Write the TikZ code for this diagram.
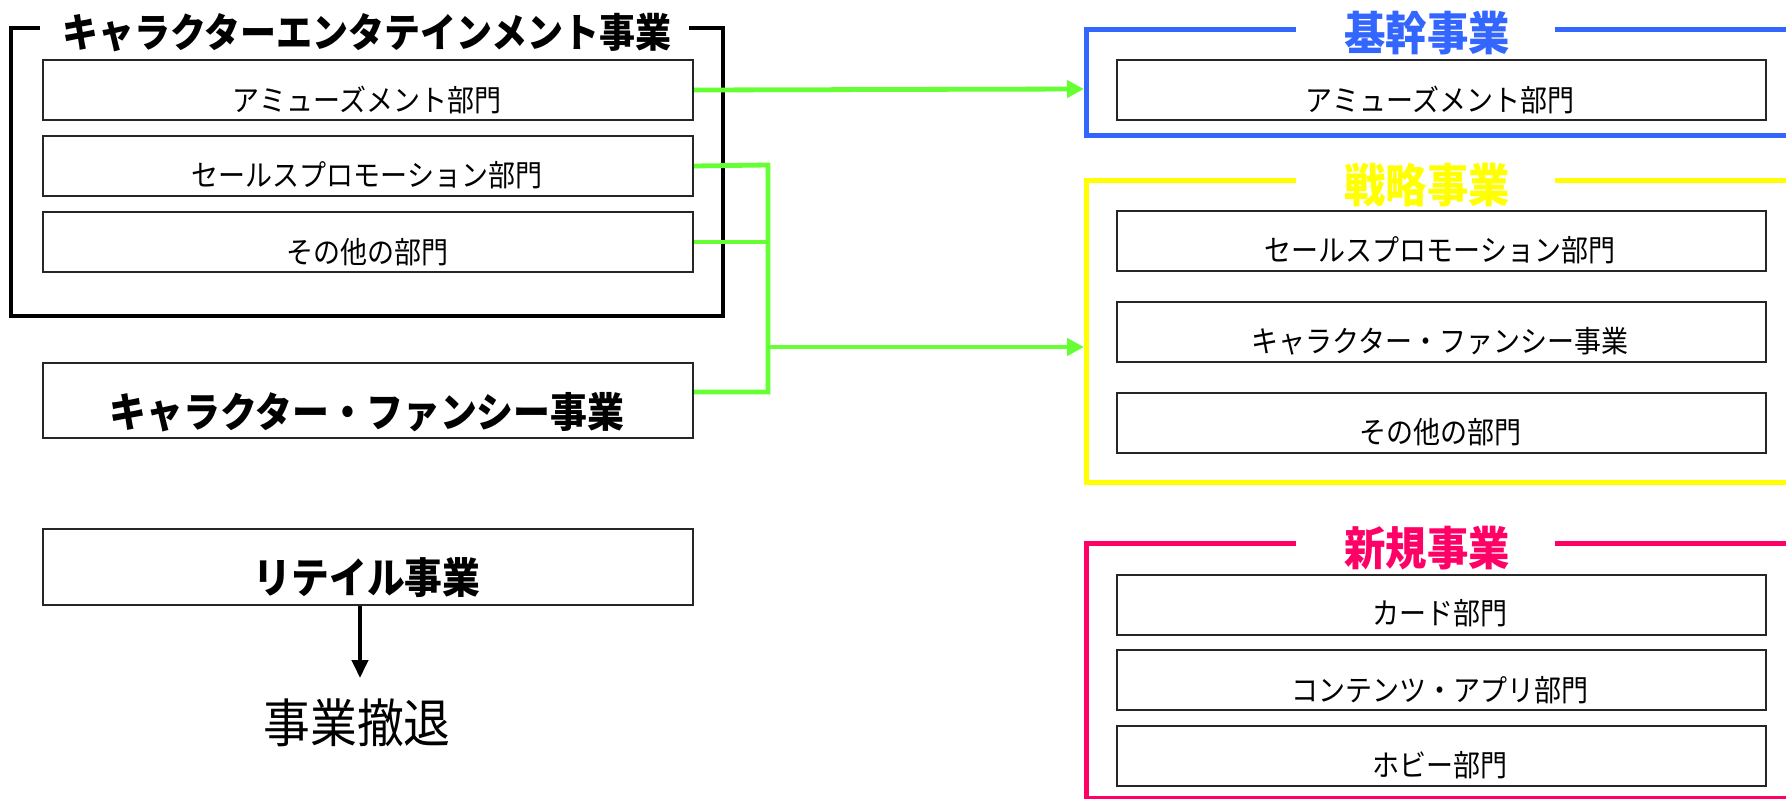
\documentclass[tikz,border=0pt]{standalone}
\usepackage{fontspec}
\newfontfamily\jpn[FakeStretch=0.9]{Noto Sans CJK JP}
\usetikzlibrary{arrows.meta}
\definecolor{cgreen}{RGB}{102,255,51}
\definecolor{cblue}{RGB}{51,102,255}
\definecolor{cyellow}{RGB}{255,255,0}
\definecolor{cpink}{RGB}{255,0,102}
\begin{document}
\begin{tikzpicture}[x=1pt,y=-1pt,
  box/.style={draw=black!85, line width=2pt, minimum width=650pt, minimum height=60pt, inner sep=0pt, anchor=north west},
  bigbox/.style={box, minimum height=75pt},
  txt/.style={font=\jpn\fontsize{30}{30}\selectfont, inner sep=0pt},
  btxt/.style={font=\jpn\bfseries\fontsize{41}{41}\selectfont, inner sep=0pt},
  ttl/.style={font=\jpn\bfseries\fontsize{46}{46}\selectfont, inner sep=0pt},
  frame/.style={line width=5pt, line join=miter},
  grn/.style={draw=cgreen, line width=4.8pt, line join=miter},
  garrow/.style={grn, -{Triangle[length=17pt,width=17pt]}}
]
\useasboundingbox (0,0) rectangle (1786,798);
\clip (0,0) rectangle (1786,798);

% ---------- left side ----------
\draw[line width=4pt, line join=miter] (40,28) -- (11,28) -- (11,316) -- (723,316) -- (723,28) -- (689,28);
\node[btxt, font=\jpn\bfseries\fontsize{40}{40}\selectfont] (lt) at (367,33) {キャラクターエンタテインメント事業};

\node[box] (l1) at (42,59) {};
\node[txt] (l1t) at (367,100) {アミューズメント部門};
\node[box] (l2) at (42,135) {};
\node[txt] (l2t) at (367,175) {セールスプロモーション部門};
\node[box] (l3) at (42,211) {};
\node[txt] (l3t) at (367,252) {その他の部門};

\node[bigbox] (cf) at (42,362) {};
\node[btxt] (cft) at (367,412) {キャラクター・ファンシー事業};

\node[bigbox, minimum height=76pt] (rt) at (42,528) {};
\node[btxt, font=\jpn\bfseries\fontsize{42}{42}\selectfont] (rtt) at (367,578) {リテイル事業};

\coordinate (exitarr) at (360,678);
\draw[line width=4pt, -{Triangle[length=18pt,width=16pt]}] (rt.south -| exitarr) -- (exitarr);
\node[font=\jpn\fontsize{52}{52}\selectfont, inner sep=0pt] (ex) at (357,723) {事業撤退};

% ---------- right side ----------
% blue
\draw[frame, draw=cblue] (1296,29) -- (1086,29) -- (1086,135) -- (1800,135);
\draw[frame, draw=cblue] (1555,29) -- (1800,29);
\node[ttl, text=cblue] (bt) at (1427,33) {基幹事業};
\node[box, minimum width=649pt] (b1) at (1116,59) {};
\node[txt] (b1t) at (1440,100) {アミューズメント部門};

% yellow
\draw[frame, draw=cyellow] (1296,180) -- (1086,180) -- (1086,482) -- (1800,482);
\draw[frame, draw=cyellow] (1555,180) -- (1800,180);
\node[ttl, text=cyellow] (yt) at (1427,185) {戦略事業};
\node[box, minimum width=649pt] (y1) at (1116,210) {};
\node[txt] (y1t) at (1440,250) {セールスプロモーション部門};
\node[box, minimum width=649pt] (y2) at (1116,301) {};
\node[txt] (y2t) at (1440,341) {キャラクター・ファンシー事業};
\node[box, minimum width=649pt] (y3) at (1116,392) {};
\node[txt] (y3t) at (1440,432) {その他の部門};

% pink
\draw[frame, draw=cpink] (1296,543) -- (1086,543) -- (1086,798) -- (1800,798);
\draw[frame, draw=cpink] (1555,543) -- (1800,543);
\node[ttl, text=cpink] (pt) at (1427,548) {新規事業};
\node[box, minimum width=649pt] (p1) at (1116,574) {};
\node[txt] (p1t) at (1440,613) {カード部門};
\node[box, minimum width=649pt] (p2) at (1116,649) {};
\node[txt] (p2t) at (1440,690) {コンテンツ・アプリ部門};
\node[box, minimum width=649pt] (p3) at (1116,725) {};
\node[txt] (p3t) at (1440,765) {ホビー部門};

% ---------- green connectors ----------
\coordinate (blueL) at (1084,89);
\coordinate (jtop) at (768,165);
\coordinate (jbot) at (768,392);
\coordinate (jmid) at (768,347);
\coordinate (yelL) at (1084,347);
\draw[garrow] (l1.east) -- (blueL);
\draw[grn] (l2.east) -- (jtop) -- (jbot) -- (cf.east |- jbot);
\draw[grn] (l3.east) -- (l3.east -| jtop);
\draw[garrow] (jmid) -- (yelL);
\end{tikzpicture}
\end{document}
